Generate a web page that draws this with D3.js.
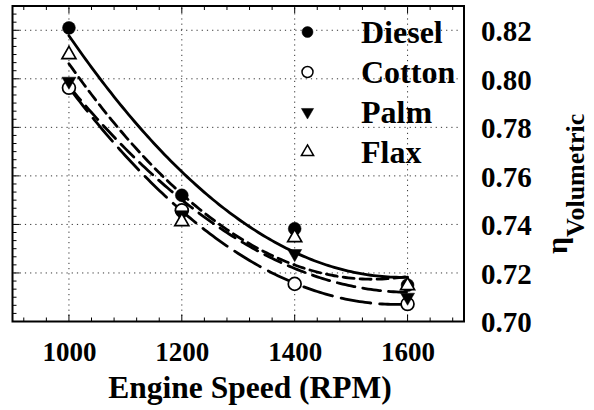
<!DOCTYPE html>
<html>
<head>
<meta charset="utf-8">
<script src="https://cdn.jsdelivr.net/npm/d3@7/dist/d3.min.js"></script>
<style>
  html, body { margin: 0; padding: 0; background: #fff; }
  svg { display: block; }
  text { font-family: "Liberation Serif", "Times New Roman", serif; font-weight: bold; fill: #000; }
</style>
</head>
<body>
<svg id="chart" width="594" height="410"></svg>
<script>
// Engine speed (RPM) at which each fuel was measured
const rpm = [1000, 1200, 1400, 1600];

// Volumetric efficiency per fuel
const diesel = [0.8210, 0.7520, 0.7382, 0.7150];
const cotton = [0.7963, 0.7458, 0.7155, 0.7072];
const palm   = [0.7990, 0.7440, 0.7280, 0.7100];
const flax   = [0.8100, 0.7412, 0.7346, 0.7148];

const fuelNames = ["Diesel", "Cotton", "Palm", "Flax"];

// Axis ticks
const xTicks = [1000, 1200, 1400, 1600];
const yTicks = [0.70, 0.72, 0.74, 0.76, 0.78, 0.80, 0.82];

const svg = d3.select("#chart");
const W = 594, H = 410;
const plot = { left: 12.5, right: 464, top: 6, bottom: 321.5 };

const x = d3.scaleLinear().domain([900, 1700]).range([plot.left, plot.right]);
const y = d3.scaleLinear().domain([0.70, 0.83]).range([plot.bottom, plot.top]);

svg.append("rect").attr("width", W).attr("height", H).attr("fill", "#fff");

// Dotted grid
const grid = svg.append("g").attr("stroke", "#333").attr("stroke-width", 1)
  .attr("stroke-dasharray", "1.2,4");
xTicks.forEach(v => grid.append("line")
  .attr("x1", x(v)).attr("x2", x(v)).attr("y1", plot.top + 2).attr("y2", plot.bottom - 2));
yTicks.filter(v => v > 0.70).forEach(v => grid.append("line")
  .attr("x1", plot.left + 2).attr("x2", plot.right - 4).attr("y1", y(v)).attr("y2", y(v)));

// Quadratic least-squares trend line for one fuel
function quadFit(xs, ys) {
  const c = d3.mean(xs), s = 200;
  const u = xs.map(v => (v - c) / s);
  let S = [0, 0, 0, 0, 0], T = [0, 0, 0];
  u.forEach((ui, i) => {
    for (let k = 0; k < 5; k++) S[k] += Math.pow(ui, k);
    for (let k = 0; k < 3; k++) T[k] += Math.pow(ui, k) * ys[i];
  });
  const M = [[S[0], S[1], S[2], T[0]], [S[1], S[2], S[3], T[1]], [S[2], S[3], S[4], T[2]]];
  for (let i = 0; i < 3; i++) {
    for (let j = i + 1; j < 3; j++) {
      const f = M[j][i] / M[i][i];
      for (let k = i; k < 4; k++) M[j][k] -= f * M[i][k];
    }
  }
  const a = [0, 0, 0];
  for (let i = 2; i >= 0; i--) {
    let v = M[i][3];
    for (let k = i + 1; k < 3; k++) v -= M[i][k] * a[k];
    a[i] = v / M[i][i];
  }
  return v => { const t = (v - c) / s; return a[0] + a[1] * t + a[2] * t * t; };
}

const series = [
  { name: fuelNames[0], values: diesel, dash: null,    symbol: d3.symbolCircle,   rot: 0,   filled: true },
  { name: fuelNames[1], values: cotton, dash: "30,9",  symbol: d3.symbolCircle,   rot: 0,   filled: false },
  { name: fuelNames[2], values: palm,   dash: "18,8",  symbol: d3.symbolTriangle, rot: 180, filled: true },
  { name: fuelNames[3], values: flax,   dash: "11,6",  symbol: d3.symbolTriangle, rot: 0,   filled: false }
];

const line = d3.line().x(d => x(d[0])).y(d => y(d[1])).curve(d3.curveLinear);
const fitX = d3.range(rpm[0], rpm[rpm.length - 1] + 1, 5);

const lines = svg.append("g").attr("fill", "none").attr("stroke", "#000")
  .attr("stroke-width", 2.8).attr("stroke-linecap", "round");
series.forEach(s => {
  const f = quadFit(rpm, s.values);
  lines.append("path")
    .attr("d", line(fitX.map(v => [v, f(v)])))
    .attr("stroke-dasharray", s.dash);
});

function symbolPath(s, size) {
  return d3.symbol().type(s.symbol).size(size)();
}

const marks = svg.append("g");
series.forEach(s => {
  rpm.forEach((r, i) => {
    marks.append("path")
      .attr("d", symbolPath(s, s.symbol === d3.symbolCircle ? 130 : 85))
      .attr("transform", `translate(${x(r)},${y(s.values[i])}) rotate(${s.rot})`)
      .attr("fill", s.filled ? "#000" : "#fff")
      .attr("stroke", "#000").attr("stroke-width", s.filled ? 0.5 : 1.7);
  });
});

// Legend
const legend = svg.append("g");
series.forEach((s, i) => {
  const ly = 32 + i * 40;
  legend.append("path")
    .attr("d", symbolPath(s, s.symbol === d3.symbolCircle ? 95 : 65))
    .attr("transform", `translate(307.5,${ly}) rotate(${s.rot})`)
    .attr("fill", s.filled ? "#000" : "#fff")
    .attr("stroke", "#000").attr("stroke-width", s.filled ? 0.5 : 1.5);
  legend.append("text").attr("x", 361).attr("y", ly + 11)
    .attr("font-size", 32).text(s.name);
});

// Ticks (inward) on bottom, top and left edges
const tk = svg.append("g").attr("stroke", "#000").attr("stroke-width", 1);
d3.range(920, 1700, 40).forEach(v => {
  const major = xTicks.includes(v);
  const len = major ? 7 : 4;
  tk.append("line").attr("x1", x(v)).attr("x2", x(v)).attr("y1", plot.bottom).attr("y2", plot.bottom - len);
  tk.append("line").attr("x1", x(v)).attr("x2", x(v)).attr("y1", plot.top).attr("y2", plot.top + len);
});
d3.range(1, 39).forEach(k => {
  const v = 0.70 + k * 0.02 / 6;
  const major = k % 6 === 0;
  const len = major ? 7 : 4;
  tk.append("line").attr("x1", plot.left).attr("x2", plot.left + len).attr("y1", y(v)).attr("y2", y(v));
});

// Frame
svg.append("rect")
  .attr("x", plot.left).attr("y", plot.top)
  .attr("width", plot.right - plot.left).attr("height", plot.bottom - plot.top)
  .attr("fill", "none").attr("stroke", "#000").attr("stroke-width", 2);

// Axis labels
const xAxis = d3.axisBottom(x).tickValues(xTicks).tickFormat(d3.format("d")).tickSize(0).tickPadding(0);
const gx = svg.append("g").attr("transform", `translate(0,${plot.bottom})`).call(xAxis);
gx.select(".domain").remove();
gx.selectAll("text").attr("font-size", 27).attr("font-family", null).attr("dy", null).attr("y", 39)
  .style("font-family", "'Liberation Serif', serif").style("font-weight", "bold");

const yAxis = d3.axisRight(y).tickValues(yTicks).tickFormat(d3.format(".2f")).tickSize(0).tickPadding(0);
const gy = svg.append("g").attr("transform", `translate(${plot.right},0)`).call(yAxis);
gy.select(".domain").remove();
gy.selectAll("text").attr("font-size", 29).attr("font-family", null).attr("x", 17).attr("dy", "0.36em")
  .style("font-family", "'Liberation Serif', serif").style("font-weight", "bold");

svg.append("text").attr("x", 250).attr("y", 398).attr("text-anchor", "middle")
  .attr("font-size", 31.5).text("Engine Speed (RPM)");

const yt = svg.append("text").attr("transform", "translate(567,254) rotate(-90)")
  .attr("text-anchor", "start");
yt.append("tspan").attr("font-size", 30).text("η");
yt.append("tspan").attr("font-size", 26).attr("dy", 17).text("Volumetric");
</script>
</body>
</html>
